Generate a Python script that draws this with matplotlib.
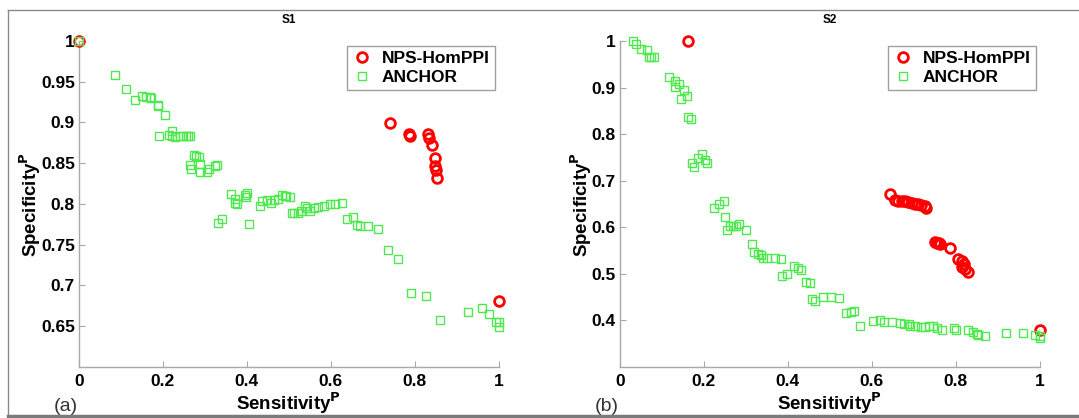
import matplotlib
matplotlib.use("Agg")
import matplotlib.pyplot as plt
from matplotlib.lines import Line2D

plt.rcParams["font.family"] = ["Liberation Sans", "DejaVu Sans"]

# S1 — NPS-HomPPI
s1_nps_sens = [0.0, 0.742, 0.787, 0.789, 0.832, 0.834, 0.840, 0.849, 0.849, 0.850, 0.854, 1.0]
s1_nps_spec = [1.0, 0.899, 0.886, 0.883, 0.886, 0.881, 0.872, 0.856, 0.847, 0.842, 0.832, 0.681]

# S1 — ANCHOR
s1_anc_sens = [0.0, 0.086, 0.112, 0.133, 0.150, 0.160, 0.169, 0.172, 0.188, 0.189, 0.204,
               0.191, 0.214, 0.221, 0.221, 0.228, 0.240, 0.248, 0.254, 0.260, 0.265,
               0.275, 0.279, 0.287, 0.264, 0.266, 0.289, 0.289, 0.306, 0.309, 0.325,
               0.329, 0.363, 0.371, 0.371, 0.377, 0.396, 0.400, 0.398, 0.331, 0.340,
               0.405, 0.431, 0.435, 0.447, 0.458, 0.465, 0.473, 0.483, 0.490, 0.494,
               0.502, 0.507, 0.513, 0.522, 0.530, 0.539, 0.543, 0.550, 0.561, 0.569,
               0.583, 0.598, 0.610, 0.626, 0.639, 0.652, 0.663, 0.670, 0.688, 0.713,
               0.737, 0.759, 0.792, 0.826, 0.861, 0.926, 0.960, 0.976, 0.993, 1.0, 1.0]
s1_anc_spec = [1.0, 0.958, 0.941, 0.927, 0.932, 0.931, 0.931, 0.930, 0.921, 0.920, 0.909,
               0.884, 0.885, 0.890, 0.883, 0.882, 0.883, 0.884, 0.884, 0.884, 0.883,
               0.860, 0.859, 0.858, 0.848, 0.843, 0.849, 0.839, 0.839, 0.843, 0.847,
               0.848, 0.812, 0.806, 0.801, 0.800, 0.811, 0.813, 0.809, 0.777, 0.781,
               0.775, 0.798, 0.804, 0.805, 0.801, 0.805, 0.806, 0.811, 0.810, 0.810,
               0.808, 0.789, 0.789, 0.789, 0.791, 0.798, 0.795, 0.792, 0.795, 0.796,
               0.798, 0.800, 0.800, 0.801, 0.782, 0.784, 0.774, 0.773, 0.773, 0.769,
               0.743, 0.733, 0.691, 0.687, 0.658, 0.668, 0.672, 0.665, 0.655, 0.655, 0.649]

# S2 — NPS-HomPPI
s2_nps_sens = [0.161, 0.644, 0.655, 0.663, 0.671, 0.679, 0.687, 0.695, 0.703, 0.711, 0.718,
               0.726, 0.728, 0.751, 0.755, 0.759, 0.763, 0.787, 0.805, 0.815, 0.819,
               0.815, 0.823, 0.829, 1.0]
s2_nps_spec = [1.0, 0.672, 0.658, 0.656, 0.657, 0.656, 0.655, 0.653, 0.651, 0.650, 0.648,
               0.645, 0.642, 0.568, 0.566, 0.566, 0.564, 0.556, 0.531, 0.527, 0.522,
               0.515, 0.511, 0.505, 0.380]

# S2 — ANCHOR
s2_anc_sens = [0.030, 0.038, 0.051, 0.064, 0.068, 0.074, 0.080, 0.116, 0.130, 0.130, 0.141,
               0.152, 0.146, 0.159, 0.163, 0.168, 0.172, 0.176, 0.186, 0.195, 0.203,
               0.207, 0.223, 0.235, 0.248, 0.251, 0.254, 0.261, 0.269, 0.277, 0.283,
               0.301, 0.315, 0.319, 0.329, 0.335, 0.341, 0.351, 0.369, 0.384, 0.386,
               0.398, 0.415, 0.424, 0.431, 0.442, 0.452, 0.458, 0.464, 0.483, 0.502,
               0.521, 0.538, 0.550, 0.557, 0.571, 0.603, 0.620, 0.628, 0.649, 0.667,
               0.676, 0.688, 0.691, 0.704, 0.718, 0.727, 0.737, 0.745, 0.755, 0.768,
               0.796, 0.800, 0.829, 0.840, 0.850, 0.854, 0.870, 0.920, 0.959, 0.988,
               1.0, 1.0]
s2_anc_spec = [1.0, 0.994, 0.983, 0.981, 0.966, 0.966, 0.966, 0.923, 0.915, 0.901, 0.908,
               0.894, 0.876, 0.882, 0.836, 0.833, 0.737, 0.730, 0.749, 0.757, 0.744,
               0.739, 0.641, 0.651, 0.657, 0.622, 0.595, 0.602, 0.602, 0.602, 0.607,
               0.594, 0.565, 0.547, 0.543, 0.540, 0.535, 0.533, 0.534, 0.531, 0.496,
               0.499, 0.516, 0.513, 0.508, 0.482, 0.480, 0.447, 0.441, 0.451, 0.451,
               0.449, 0.416, 0.418, 0.421, 0.387, 0.398, 0.400, 0.396, 0.396, 0.395,
               0.393, 0.393, 0.387, 0.389, 0.386, 0.386, 0.387, 0.388, 0.383, 0.380,
               0.384, 0.380, 0.380, 0.375, 0.370, 0.368, 0.366, 0.373, 0.373, 0.369,
               0.366, 0.363]

panels = [
    ("S1", "(a)", s1_nps_sens, s1_nps_spec, s1_anc_sens, s1_anc_spec,
     0.60, [0.65, 0.7, 0.75, 0.8, 0.85, 0.9, 0.95, 1], ["0.65", "0.7", "0.75", "0.8", "0.85", "0.9", "0.95", "1"]),
    ("S2", "(b)", s2_nps_sens, s2_nps_spec, s2_anc_sens, s2_anc_spec,
     0.30, [0.4, 0.5, 0.6, 0.7, 0.8, 0.9, 1], ["0.4", "0.5", "0.6", "0.7", "0.8", "0.9", "1"]),
]

spine_grey = "#a8a8a8"
green = "#4fe84f"

fig = plt.figure(figsize=(10.79, 4.18), dpi=100)
lefts = [0.0732, 0.5746]

for left, (title, tag, nx, ny, ax_, ay_, ymin, yt, ytl) in zip(lefts, panels):
    ax = fig.add_axes([left, 0.122, 0.389, 0.780])
    ax.plot(nx, ny, "o", ls="none", mfc="none", mec="#ff0000", mew=2.0, ms=7,
            label="NPS-HomPPI", zorder=3, clip_on=False)
    ax.plot(ax_, ay_, "s", ls="none", mfc="none", mec=green, mew=1.0, ms=5.5,
            label="ANCHOR", zorder=4, clip_on=False)
    ax.set_xlim(0, 1)
    ax.set_ylim(ymin, 1)
    ax.set_xticks([0, 0.2, 0.4, 0.6, 0.8, 1])
    ax.set_xticklabels(["0", "0.2", "0.4", "0.6", "0.8", "1"])
    ax.set_yticks(yt)
    ax.set_yticklabels(ytl)
    for s in ("top", "right"):
        ax.spines[s].set_visible(False)
    for s in ("left", "bottom"):
        ax.spines[s].set_color(spine_grey)
        ax.spines[s].set_linewidth(1.0)
    ax.tick_params(direction="in", length=4, width=0.8, color=spine_grey,
                   labelsize=12.5)
    ax.tick_params(axis="y", pad=3)
    ax.tick_params(axis="x", pad=5)
    for lab in ax.get_xticklabels() + ax.get_yticklabels():
        lab.set_fontweight("bold")
    ax.set_title(title, fontsize=8.5, fontweight="bold", pad=13)
    ax.set_xlabel(r"Sensitivity$^{\mathbf{P}}$", fontsize=13.5, fontweight="bold", labelpad=1)
    ax.set_ylabel(r"Specificity$^{\mathbf{P}}$", fontsize=13.5, fontweight="bold", labelpad=-1.5)
    leg = ax.legend(loc="upper right", bbox_to_anchor=(0.99, 0.985), borderaxespad=0,
                    fancybox=False, framealpha=1, edgecolor="#a0a0a0",
                    prop={"weight": "bold", "size": 12.5}, handletextpad=0.5,
                    handlelength=1.2, borderpad=0.3, labelspacing=0.2)
    leg.get_frame().set_linewidth(1.0)
    ax.text(-0.032, -0.12, tag, transform=ax.transAxes, fontsize=14, color="#333333",
            ha="center", va="center")

# outer frame lines
fig.add_artist(Line2D([8 / 1079, 1], [1 - 10 / 418, 1 - 10 / 418], transform=fig.transFigure,
                      color="#8a8a8a", lw=1.0))
fig.add_artist(Line2D([8 / 1079, 8 / 1079], [1 - 10 / 418, 2 / 418], transform=fig.transFigure,
                      color="#8a8a8a", lw=1.0))
fig.add_artist(Line2D([8 / 1079, 1], [2 / 418, 2 / 418], transform=fig.transFigure,
                      color="#7a7a7a", lw=2.5))

fig.savefig("out.png", dpi=100)
